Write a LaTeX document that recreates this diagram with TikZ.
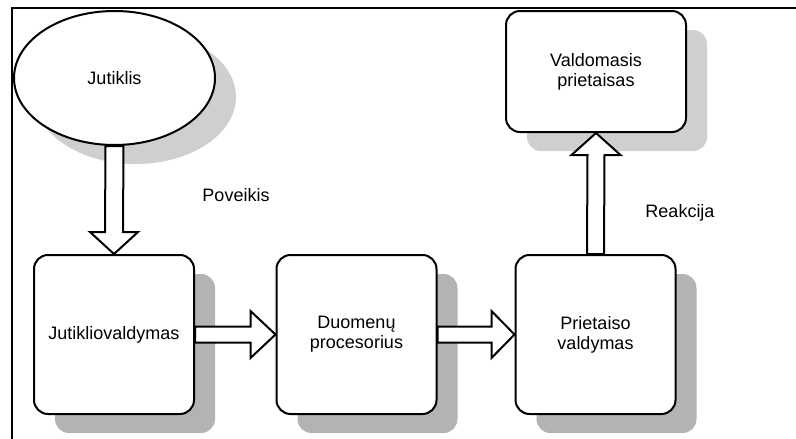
\documentclass[tikz,border=0pt]{standalone}
\usepackage{fontspec}
\setmainfont{Liberation Sans}
\usetikzlibrary{shapes.geometric,shadows,calc}

\definecolor{shadowlight}{HTML}{CFCFCF}
\definecolor{shadowdark}{HTML}{B3B3B3}

\tikzset{
  every node/.style={font=\fontsize{18}{20}\selectfont},
  outline/.style={draw=black, line width=2pt, fill=white},
  unitbox/.style={outline, rectangle, rounded corners=14pt, inner sep=0pt,
    align=center, minimum width=160pt, minimum height=159pt},
  lightshadow/.style={drop shadow={shadow xshift=21pt, shadow yshift=-19pt,
    fill=shadowlight, opacity=1}},
  darkshadow/.style={drop shadow={shadow xshift=21pt, shadow yshift=-19pt,
    fill=shadowdark, opacity=1}},
  blockarrow/.style={draw=black, line width=2pt, fill=white, line join=miter},
  caption/.style={inner sep=0pt}
}

\begin{document}
\begin{tikzpicture}[x=1pt, y=-1pt]
  \useasboundingbox (0,0) rectangle (796,439);

  % frame lines along the left and top edges
  \draw[line width=2pt] (11.5,439) -- (11.5,7.5) -- (796,7.5);

  % units
  \node[outline, ellipse, inner sep=0pt, minimum width=201pt, minimum height=134pt,
        lightshadow] (jut) at (114.5,78) {Jutiklis};
  \node[unitbox, minimum width=180pt, minimum height=121pt, lightshadow]
        (vp) at (596,71.5) {Valdomasis\\prietaisas};
  \node[unitbox, darkshadow] (jv) at (114,334.5) {Jutikliovaldymas};
  \node[unitbox, darkshadow] (dp) at (356.5,334.5) {Duomenų\\procesorius};
  \node[unitbox, darkshadow] (pv) at (595.5,334.5) {Prietaiso\\valdymas};

  % block arrows between units
  \draw[blockarrow]
    ($(jut.south)+(-9,0)$) -- ($(jv.north)+(-9,-22)$) -- ($(jv.north)+(-24,-22)$)
    -- (jv.north) -- ($(jv.north)+(24,-22)$) -- ($(jv.north)+(9,-22)$)
    -- ($(jut.south)+(9,0)$) -- cycle;

  \draw[blockarrow]
    ($(jv.east)+(0,-8)$) -- ($(dp.west)+(-25,-8)$) -- ($(dp.west)+(-25,-23.5)$)
    -- (dp.west) -- ($(dp.west)+(-25,23.5)$) -- ($(dp.west)+(-25,8)$)
    -- ($(jv.east)+(0,8)$) -- cycle;

  \draw[blockarrow]
    ($(dp.east)+(0,-8)$) -- ($(pv.west)+(-23,-8)$) -- ($(pv.west)+(-23,-23.5)$)
    -- (pv.west) -- ($(pv.west)+(-23,23.5)$) -- ($(pv.west)+(-23,8)$)
    -- ($(dp.east)+(0,8)$) -- cycle;

  \draw[blockarrow]
    ($(pv.north)+(-8.5,0)$) -- ($(vp.south)+(-8.5,22)$) -- ($(vp.south)+(-24.5,22)$)
    -- (vp.south) -- ($(vp.south)+(24.5,22)$) -- ($(vp.south)+(8.5,22)$)
    -- ($(pv.north)+(8.5,0)$) -- cycle;

  % arrow labels
  \node[caption] (poveikis) at (236,195) {Poveikis};
  \node[caption] (reakcija) at (680,213) {Reakcija};
\end{tikzpicture}
\end{document}
